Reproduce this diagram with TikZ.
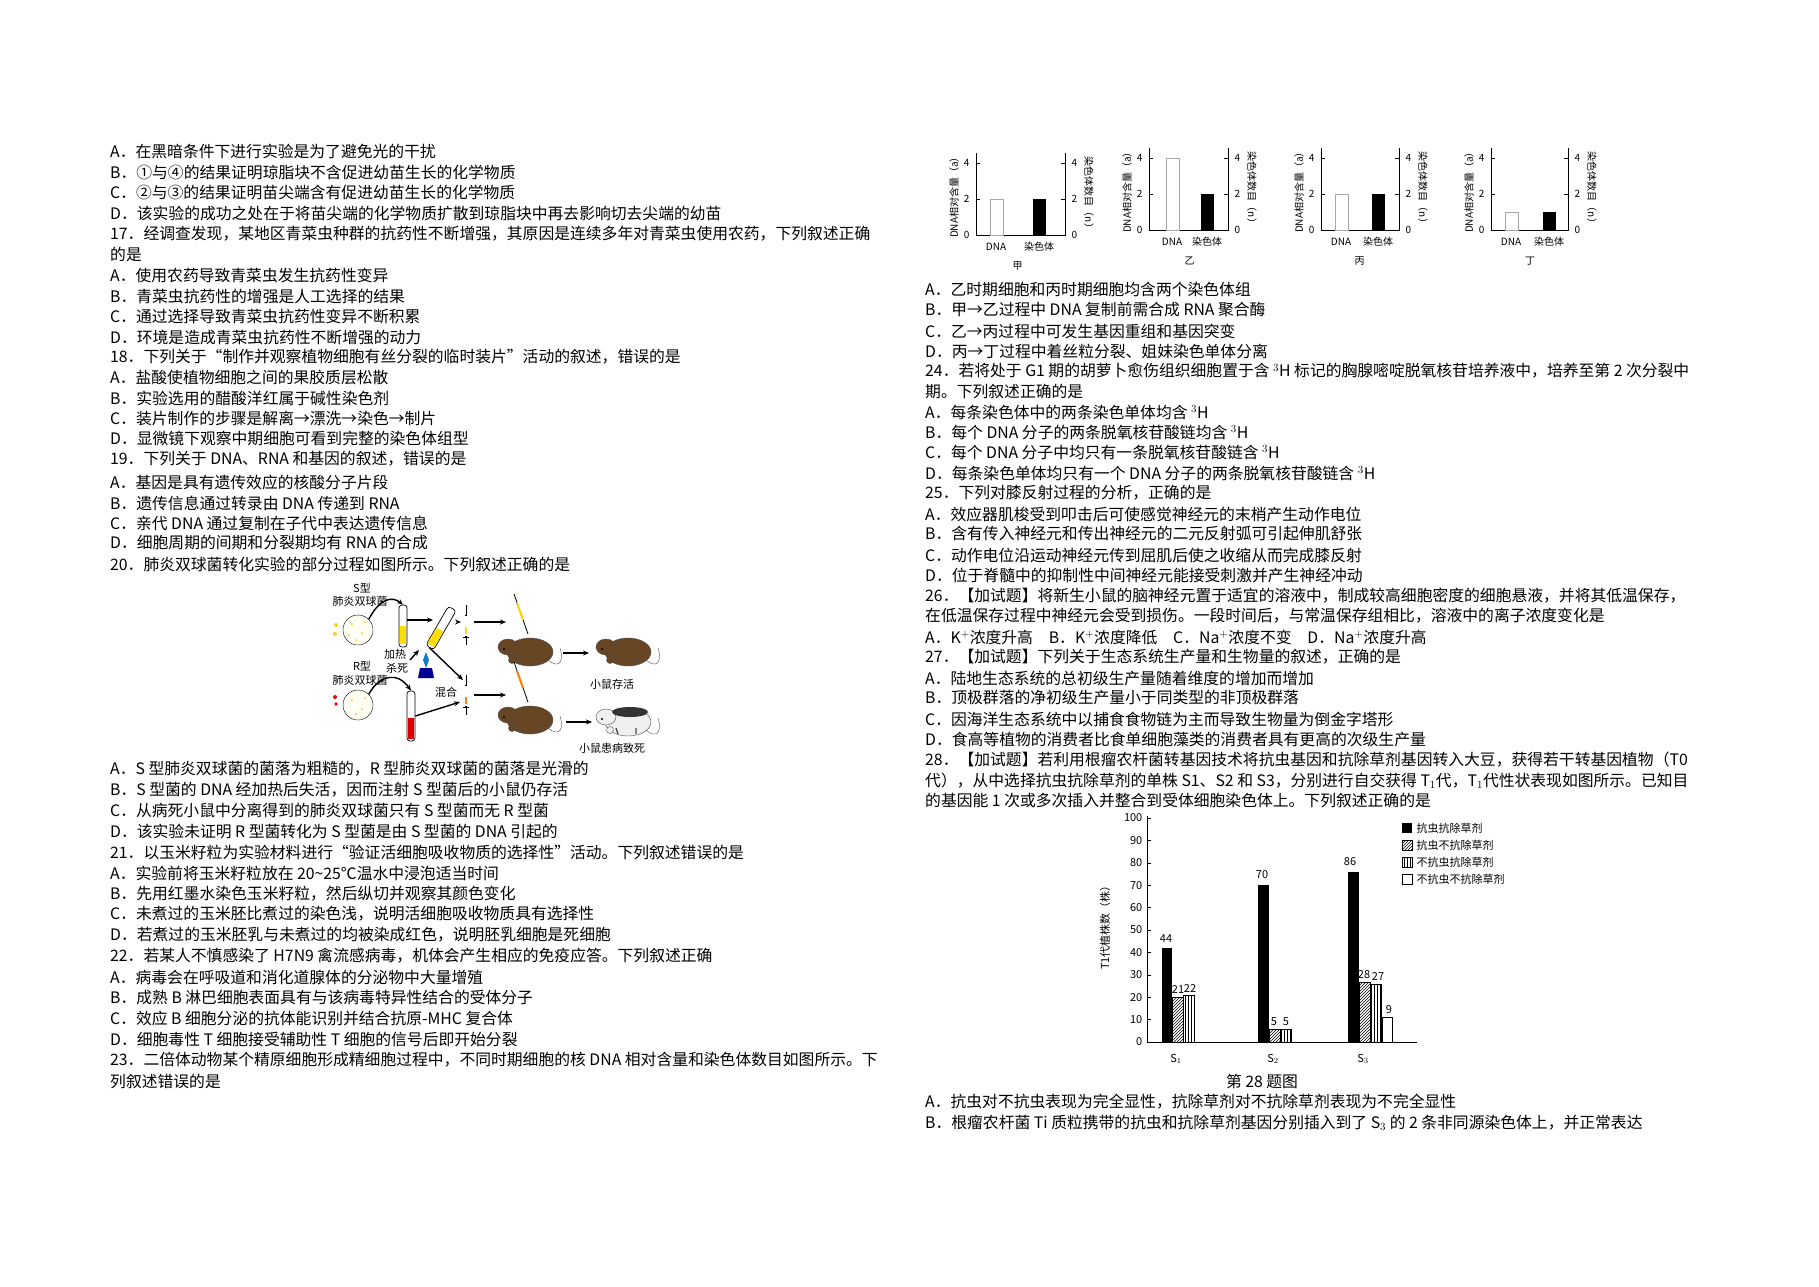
\documentclass[tikz,border=0pt]{standalone}
\usepackage{fontspec}
\setmainfont{Noto Sans CJK SC}
\usetikzlibrary{arrows.meta,patterns,shapes.geometric}
\begin{document}
\begin{tikzpicture}[x=1pt,y=-1pt,
 txt/.style={anchor=west,inner sep=0pt,font=\fontsize{15.8}{16}\selectfont},
 sm/.style={inner sep=0.5pt,font=\fontsize{10}{10}\selectfont},
 lab/.style={inner sep=0.5pt,font=\fontsize{11}{11}\selectfont},
 arr/.style={-{Stealth[length=6pt,width=5pt]},line width=1.4pt},
 ax/.style={line width=0.8pt},
 hbar/.style={draw=black,pattern=north east lines},
 vbar/.style={draw=black,pattern=vertical lines},
 tube/.style={draw=black,line width=0.7pt,fill=white,rounded corners=3pt},
]
\useasboundingbox (0,0) rectangle (1819,1286);
\fill[white] (0,0) rectangle (1819,1286);
\newcommand\Tl[3]{\node[txt] (#1) at (110,#2) {#3};}
\newcommand\Tr[3]{\node[txt] (#1) at (925,#2) {#3};}
% ---------- left column
\Tl{l1}{151}{A．在黑暗条件下进行实验是为了避免光的干扰}
\Tl{l2}{172}{B．①与④的结果证明琼脂块不含促进幼苗生长的化学物质}
\Tl{l3}{192}{C．②与③的结果证明苗尖端含有促进幼苗生长的化学物质}
\Tl{l4}{213}{D．该实验的成功之处在于将苗尖端的化学物质扩散到琼脂块中再去影响切去尖端的幼苗}
\Tl{l5}{234}{17．经调查发现，某地区青菜虫种群的抗药性不断增强，其原因是连续多年对青菜虫使用农药，下列叙述正确}
\Tl{l6}{254}{的是}
\Tl{l7}{275}{A．使用农药导致青菜虫发生抗药性变异}
\Tl{l8}{296}{B．青菜虫抗药性的增强是人工选择的结果}
\Tl{l9}{316}{C．通过选择导致青菜虫抗药性变异不断积累}
\Tl{l10}{337}{D．环境是造成青菜虫抗药性不断增强的动力}
\Tl{l11}{357}{18．下列关于“制作并观察植物细胞有丝分裂的临时装片”活动的叙述，错误的是}
\Tl{l12}{378}{A．盐酸使植物细胞之间的果胶质层松散}
\Tl{l13}{398}{B．实验选用的醋酸洋红属于碱性染色剂}
\Tl{l14}{418}{C．装片制作的步骤是解离→漂洗→染色→制片}
\Tl{l15}{438}{D．显微镜下观察中期细胞可看到完整的染色体组型}
\Tl{l16}{459}{19．下列关于 DNA、RNA 和基因的叙述，错误的是}
\Tl{l17}{482}{A．基因是具有遗传效应的核酸分子片段}
\Tl{l18}{503}{B．遗传信息通过转录由 DNA 传递到 RNA}
\Tl{l19}{523}{C．亲代 DNA 通过复制在子代中表达遗传信息}
\Tl{l20}{543}{D．细胞周期的间期和分裂期均有 RNA 的合成}
\Tl{l21}{564}{20．肺炎双球菌转化实验的部分过程如图所示。下列叙述正确的是}
\Tl{m1}{769}{A．S 型肺炎双球菌的菌落为粗糙的，R 型肺炎双球菌的菌落是光滑的}
\Tl{m2}{790}{B．S 型菌的 DNA 经加热后失活，因而注射 S 型菌后的小鼠仍存活}
\Tl{m3}{810}{C．从病死小鼠中分离得到的肺炎双球菌只有 S 型菌而无 R 型菌}
\Tl{m4}{831}{D．该实验未证明 R 型菌转化为 S 型菌是由 S 型菌的 DNA 引起的}
\Tl{m5}{852}{21．以玉米籽粒为实验材料进行“验证活细胞吸收物质的选择性”活动。下列叙述错误的是}
\Tl{m6}{873}{A．实验前将玉米籽粒放在 20\textasciitilde25℃温水中浸泡适当时间}
\Tl{m7}{894}{B．先用红墨水染色玉米籽粒，然后纵切并观察其颜色变化}
\Tl{m8}{914}{C．未煮过的玉米胚比煮过的染色浅，说明活细胞吸收物质具有选择性}
\Tl{m9}{935}{D．若煮过的玉米胚乳与未煮过的均被染成红色，说明胚乳细胞是死细胞}
\Tl{m10}{956}{22．若某人不慎感染了 H7N9 禽流感病毒，机体会产生相应的免疫应答。下列叙述正确}
\Tl{m11}{977}{A．病毒会在呼吸道和消化道腺体的分泌物中大量增殖}
\Tl{m12}{997}{B．成熟 B 淋巴细胞表面具有与该病毒特异性结合的受体分子}
\Tl{m13}{1018}{C．效应 B 细胞分泌的抗体能识别并结合抗原-MHC 复合体}
\Tl{m14}{1039}{D．细胞毒性 T 细胞接受辅助性 T 细胞的信号后即开始分裂}
\Tl{m15}{1060}{23．二倍体动物某个精原细胞形成精细胞过程中，不同时期细胞的核 DNA 相对含量和染色体数目如图所示。下}
\Tl{m16}{1081}{列叙述错误的是}
% ---------- right column
\Tr{r1}{289}{A．乙时期细胞和丙时期细胞均含两个染色体组}
\Tr{r2}{310}{B．甲→乙过程中 DNA 复制前需合成 RNA 聚合酶}
\Tr{r3}{331}{C．乙→丙过程中可发生基因重组和基因突变}
\Tr{r4}{351}{D．丙→丁过程中着丝粒分裂、姐妹染色单体分离}
\Tr{r5}{371}{24．若将处于 G1 期的胡萝卜愈伤组织细胞置于含 $^3$H 标记的胸腺嘧啶脱氧核苷培养液中，培养至第 2 次分裂中}
\Tr{r6}{392}{期。下列叙述正确的是}
\Tr{r7}{412}{A．每条染色体中的两条染色单体均含 $^3$H}
\Tr{r8}{432}{B．每个 DNA 分子的两条脱氧核苷酸链均含 $^3$H}
\Tr{r9}{452}{C．每个 DNA 分子中均只有一条脱氧核苷酸链含 $^3$H}
\Tr{r10}{473}{D．每条染色单体均只有一个 DNA 分子的两条脱氧核苷酸链含 $^3$H}
\Tr{r11}{493}{25．下列对膝反射过程的分析，正确的是}
\Tr{r12}{514}{A．效应器肌梭受到叩击后可使感觉神经元的末梢产生动作电位}
\Tr{r13}{534}{B．含有传入神经元和传出神经元的二元反射弧可引起伸肌舒张}
\Tr{r14}{555}{C．动作电位沿运动神经元传到屈肌后使之收缩从而完成膝反射}
\Tr{r15}{575}{D．位于脊髓中的抑制性中间神经元能接受刺激并产生神经冲动}
\Tr{r16}{596}{26．【加试题】将新生小鼠的脑神经元置于适宜的溶液中，制成较高细胞密度的细胞悬液，并将其低温保存，}
\Tr{r17}{616}{在低温保存过程中神经元会受到损伤。一段时间后，与常温保存组相比，溶液中的离子浓度变化是}
\Tr{r18}{637}{A．K$^+$浓度升高\quad B．K$^+$浓度降低\quad C．Na$^+$浓度不变\quad D．Na$^+$浓度升高}
\Tr{r19}{657}{27．【加试题】下列关于生态系统生产量和生物量的叙述，正确的是}
\Tr{r20}{678}{A．陆地生态系统的总初级生产量随着维度的增加而增加}
\Tr{r21}{698}{B．顶极群落的净初级生产量小于同类型的非顶极群落}
\Tr{r22}{719}{C．因海洋生态系统中以捕食食物链为主而导致生物量为倒金字塔形}
\Tr{r23}{739}{D．食高等植物的消费者比食单细胞藻类的消费者具有更高的次级生产量}
\Tr{r24}{760}{28．【加试题】若利用根瘤农杆菌转基因技术将抗虫基因和抗除草剂基因转入大豆，获得若干转基因植物（T0}
\Tr{r25}{781}{代），从中选择抗虫抗除草剂的单株 S1、S2 和 S3，分别进行自交获得 T$_1$代，T$_1$代性状表现如图所示。已知目}
\Tr{r26}{801}{的基因能 1 次或多次插入并整合到受体细胞染色体上。下列叙述正确的是}
\node[inner sep=0pt,font=\fontsize{15.8}{16}\selectfont] (cap) at (1262,1081) {第 28 题图};
\Tr{r27}{1102}{A．抗虫对不抗虫表现为完全显性，抗除草剂对不抗除草剂表现为不完全显性}
\Tr{r28}{1123}{B．根瘤农杆菌 Ti 质粒携带的抗虫和抗除草剂基因分别插入到了 S$_3$ 的 2 条非同源染色体上，并正常表达}
% ---------- four small charts
\newcommand\SC[9]{%
 \draw[ax] (#1,#3-82) -- (#1,#3) -- (#2,#3) -- (#2,#3-82);
 \foreach \v/\t in {0/0,2/2,4/4}{
   \draw (#1,#3-18*\v) -- ++(4,0); \draw (#2,#3-18*\v) -- ++(-4,0);
   \node[sm,anchor=east] at (#1-6,#3-18*\v) {\t};
   \node[sm,anchor=west] at (#2+6,#3-18*\v) {\t};}
 \fill[white,draw=gray!70,line width=0.7pt] (#4,#3) rectangle (#4+13,#3-18*#6);
 \fill[black] (#5,#3) rectangle (#5+13,#3-18*#7);
 \node[sm,rotate=90] (#9a) at (#1-22,#3-40) {DNA相对含量（a）};
 \node[sm,rotate=-90] (#9b) at (#2+24,#3-40) {染色体数目（n）};
 \node[sm] (#9c) at (#4+6,#3+12) {DNA};
 \node[sm] (#9d) at (#5+6,#3+12) {染色体};
 \node[sm] (#9e) at ({(#4+#5)/2+6},#3+31) {#8};}
\SC{976}{1065}{235}{990}{1033}{2}{2}{甲}{ca}
\SC{1149}{1228}{230}{1166}{1201}{4}{2}{乙}{cb}
\SC{1321}{1399}{230}{1335}{1372}{2}{2}{丙}{cc}
\SC{1491}{1568}{230}{1505}{1543}{1}{1}{丁}{cd}
% ---------- chart 28
\draw[ax] (1147,816) -- (1147,1042) -- (1417,1042);
\foreach \v in {0,10,...,100}{
 \draw (1147,1042-2.24*\v) -- ++(4,0);
 \node[lab,anchor=east] at (1143,1042-2.24*\v) {\v};}
\node[lab,rotate=90] (yl) at (1105,925) {T1代植株数（株）};
\fill[black] (1162,1042) rectangle (1172,948);
\draw[hbar] (1172,1042) rectangle (1183,997);
\draw[vbar] (1183,1042) rectangle (1194,995);
\fill[black] (1258,1042) rectangle (1269,885);
\draw[hbar] (1269,1042) rectangle (1280,1029);
\draw[vbar] (1280,1042) rectangle (1291,1029);
\fill[black] (1348,1042) rectangle (1359,872);
\draw[hbar] (1359,1042) rectangle (1370,982);
\draw[vbar] (1370,1042) rectangle (1381,984);
\draw[black] (1382,1042) rectangle (1392,1017);
\foreach \x/\y/\t in {1166/939/44,1178/989/21,1190/988/22,1262/875/70,1274/1022/5,1286/1022/5,1350/862/86,1364/975/28,1378/976/27,1389/1010/9}
 \node[lab] at (\x,\y) {\t};
\node[lab] (s1) at (1176,1059) {S$_1$};
\node[lab] (s2) at (1273,1059) {S$_2$};
\node[lab] (s3) at (1363,1059) {S$_3$};
\fill[black] (1402,823) rectangle (1412,833);
\draw[hbar] (1402,840) rectangle (1412,850);
\draw[vbar] (1402,857) rectangle (1412,867);
\draw (1402,874) rectangle (1412,884);
\node[lab,anchor=west] (g1) at (1416,828) {抗虫抗除草剂};
\node[lab,anchor=west] (g2) at (1416,845) {抗虫不抗除草剂};
\node[lab,anchor=west] (g3) at (1416,862) {不抗虫抗除草剂};
\node[lab,anchor=west] (g4) at (1416,879) {不抗虫不抗除草剂};
% ---------- pneumococcus figure
\node[lab] (sT) at (362,588) {S型};
\node[lab] (sN) at (360,601) {肺炎双球菌};
\node[lab] (rT) at (362,666) {R型};
\node[lab] (rN) at (360,680) {肺炎双球菌};
\node[lab] (heat1) at (395,654) {加热};
\node[lab] (heat2) at (397,668) {杀死};
\node[lab] (mix) at (446,692) {混合};
\node[lab] (alive) at (612,684) {小鼠存活};
\node[lab] (dead) at (612,748) {小鼠患病致死};
\node[circle,draw,minimum size=30pt,inner sep=0pt,fill=yellow!5] (d1) at (358,630) {};
\node[circle,draw,minimum size=30pt,inner sep=0pt,fill=yellow!5] (d2) at (358,705) {};
\foreach \p in {(352,624),(362,633),(356,640),(365,622),(349,635)} \fill[yellow!70!orange] \p circle (1pt);
\foreach \p in {(352,700),(362,709),(356,714),(365,698)} \fill[orange!60] \p circle (1pt);
\fill[yellow!70!orange] (336,625) circle (2pt) (335,634) circle (2pt);
\fill[red] (335,697) circle (2pt) (336,704) circle (1.8pt);
\node[tube,minimum width=8pt,minimum height=42pt,inner sep=0pt] (t1) at (403,626) {};
\fill[yellow!80!orange] (400,626) rectangle (406,644);
\node[tube,minimum width=8pt,minimum height=50pt,inner sep=0pt] (t3) at (411,716) {};
\fill[red!85!black] (408,718) rectangle (414,739);
\node[tube,minimum width=9pt,minimum height=45pt,inner sep=0pt,rotate=-30] (t2) at (441,628) {};
\fill[yellow!80!orange,rotate around={-30:(441,628)}] (437,630) rectangle (445,648);
\fill[blue!60!black] (420,668) -- (432,668) -- (434,678) -- (418,678) -- cycle;
\fill[cyan!60!blue] (426,668) -- (423,660) -- (426,652) -- (429,660) -- cycle;
\coordinate (sy1) at (466,625);
\coordinate (sy2) at (466,695);
\foreach \s in {sy1,sy2}{
 \draw[line width=0.8pt] ([yshift=-20pt]\s) -- ([yshift=20pt]\s);
 \draw[line width=2.4pt] ([yshift=-12pt]\s) -- ([yshift=10pt]\s);
 \draw[white,line width=1.2pt] ([yshift=-11pt]\s) -- ([yshift=9pt]\s);
 \draw ([xshift=-3pt,yshift=-12pt]\s) -- ([xshift=3pt,yshift=-12pt]\s);}
\fill[yellow!80!orange] (465.4,627) rectangle (466.6,634);
\fill[orange] (465.4,697) rectangle (466.6,704);
\newcommand\Mouse[3]{%
 \node[ellipse,minimum width=46pt,minimum height=28pt,inner sep=0pt,fill=#3,draw=black!70] (#1) at #2 {};
 \fill[#3,draw=black!70] ([xshift=-22pt,yshift=5pt]#1.center) ellipse (10pt and 8pt);
 \fill[#3,draw=black!70] ([xshift=-18pt,yshift=-8pt]#1.center) circle (3.5pt);
 \fill[black] ([xshift=-26pt,yshift=3pt]#1.center) circle (1.2pt);
 \draw[black!70] ([xshift=18pt,yshift=-8pt]#1.center) .. controls ([xshift=30pt,yshift=-18pt]#1.center) and ([xshift=34pt,yshift=-8pt]#1.center) .. ([xshift=30pt,yshift=4pt]#1.center);
 \draw[black!70,line width=1.4pt] ([xshift=-10pt,yshift=-12pt]#1.center) -- ++(-2,-6) ([xshift=8pt,yshift=-12pt]#1.center) -- ++(0,-6);}
\Mouse{ms1}{(530,652)}{brown!55!black}
\Mouse{ms2}{(530,720)}{brown!55!black}
\Mouse{ms3}{(628,652)}{brown!55!black}
\Mouse{ms4}{(628,722)}{black!6}
\fill[black!80] ([xshift=2pt,yshift=10pt]ms4.center) ellipse (18pt and 5pt);
\draw[line width=0.8pt] (514,594) -- (528,634);
\draw[line width=2pt,yellow!70!orange] (517,603) -- (523,620);
\draw[line width=0.8pt] (514,662) -- (528,702);
\draw[line width=2pt,orange] (517,671) -- (523,688);
\draw[arr] (d1.north east) .. controls (380,598) and (392,596) .. (t1.north);
\draw[arr] (d2.north east) .. controls (380,674) and (398,672) .. (t3.north);
\draw[arr] (t1.east |- 0,620) -- (433,620);
\draw[arr] (t2.north east |- 0,622) -- (461,622);
\draw[arr] (t2.south) -- (463,680);
\draw[arr] (t3.east) -- (460,702);
\draw[arr] (410,660) -- (419,650);
\draw[arr] (474,622) -- (506,622);
\draw[arr] (474,695) -- (506,695);
\draw[arr] (563,653) -- (589,653);
\draw[arr] (566,722) -- (592,722);
\end{tikzpicture}
\end{document}
